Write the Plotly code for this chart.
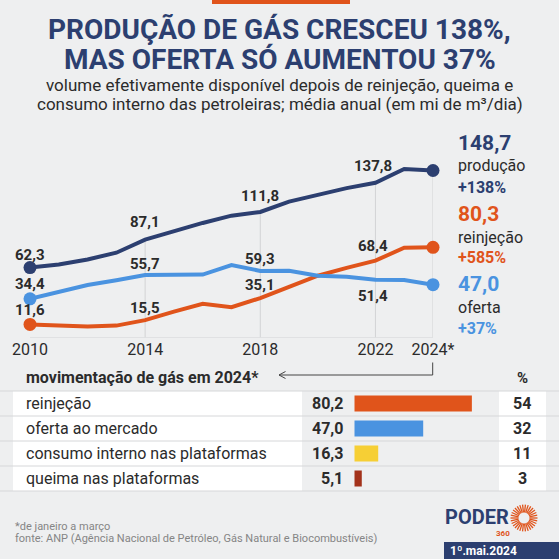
import math
import plotly.graph_objects as go

# ---------------- data ----------------
years = list(range(2010, 2025))
producao = [62.3, 65.0, 69.5, 75.5, 87.1, 95.0, 102.0, 108.5, 111.8, 121.0, 127.0, 133.0, 137.8, 150.0, 148.7]
oferta = [34.4, 40.8, 46.8, 51.0, 55.7, 55.9, 56.0, 64.5, 59.3, 59.5, 55.0, 54.0, 51.4, 51.2, 47.0]
reinjecao = [11.6, 10.6, 9.8, 10.6, 15.5, 23.0, 30.0, 27.0, 35.1, 45.0, 55.0, 62.0, 68.4, 80.0, 80.3]

label_years = [2010, 2014, 2018, 2022]
tick_years = [2010, 2014, 2018, 2022, 2024]
tick_text = ["2010", "2014", "2018", "2022", "2024*"]
grid_years = [2014, 2018, 2022, 2024]

series_names = ["produção", "reinjeção", "oferta"]
series_change = ["+138%", "+585%", "+37%"]

mov_cats = ["reinjeção", "oferta ao mercado", "consumo interno nas plataformas", "queima nas plataformas"]
mov_vals = [80.2, 47.0, 16.3, 5.1]
mov_pct = [54, 32, 11, 3]

title_lines = ["PRODUÇÃO DE GÁS CRESCEU 138%,", "MAS OFERTA SÓ AUMENTOU 37%"]
subtitle_lines = ["volume efetivamente disponível depois de reinjeção, queima e",
                  "consumo interno das petroleiras; média anual (em mi de m³/dia)"]
table_title = "movimentação de gás em 2024*"
note = "*de janeiro a março"
source = "fonte: ANP (Agência Nacional de Petróleo, Gás Natural e Biocombustíveis)"
date_txt = "1º.mai.2024"

# ---------------- styles ----------------
W = H = 559
BG = "#eeeff0"
NAVY = "#2c3f70"
ORANGE = "#e0541b"
BLUE = "#4a93e0"
YELLOW = "#f6cf35"
DARKRED = "#a3321b"
TXT = "#2b2b2b"
GRID = "#d2d3d5"
FONT = "Roboto"

def px(x):
    return x / W

def py(y):
    return 1 - y / H

def fmt(v):
    return f"{v:.1f}".replace(".", ",")

# line chart geometry
X0, X1 = 30, 433
Y_BASE, Y_TOP, PXU = 337.5, 120, 1.123
# table geometry
ROW_TOP, ROW_H = 391, 25
BAR_X0, BAR_X1, BAR_PXU = 354.3, 500, 1.466

fig = go.Figure()

line_colors = [NAVY, ORANGE, BLUE]
all_series = [producao, reinjecao, oferta]
for s, c in zip(all_series, line_colors):
    fig.add_trace(go.Scatter(x=years, y=s, mode="lines", line=dict(color=c, width=4),
                             cliponaxis=False, hoverinfo="skip", showlegend=False))
    fig.add_trace(go.Scatter(x=[years[0], years[-1]], y=[s[0], s[-1]], mode="markers",
                             marker=dict(color=c, size=13), cliponaxis=False,
                             hoverinfo="skip", showlegend=False))

fig.add_trace(go.Bar(x=mov_vals, y=mov_cats, orientation="h", xaxis="x2", yaxis="y2",
                     marker=dict(color=[ORANGE, BLUE, YELLOW, DARKRED], line=dict(width=0)),
                     width=0.64, hoverinfo="skip", showlegend=False))

shapes = []
ann = []

# top orange bar
shapes.append(dict(type="rect", xref="paper", yref="paper", x0=px(212), x1=px(350),
                   y0=py(0), y1=py(4), fillcolor=ORANGE, line=dict(width=0)))

# title & subtitle
for i, t in enumerate(title_lines):
    ann.append(dict(text=t, xref="paper", yref="paper", x=0.5, y=py(29 + 30 * i),
                    xanchor="center", yanchor="middle", showarrow=False,
                    font=dict(family=FONT, size=28, color=NAVY, weight="bold")))
for i, t in enumerate(subtitle_lines):
    ann.append(dict(text=t, xref="paper", yref="paper", x=0.5, y=py(85.5 + 18.5 * i),
                    xanchor="center", yanchor="middle", showarrow=False,
                    font=dict(family=FONT, size=17, color=TXT)))

# gridlines up to the production line and baseline
for gy in grid_years:
    shapes.append(dict(type="line", xref="x", yref="y", x0=gy, x1=gy, y0=0,
                       y1=producao[years.index(gy)], line=dict(color=GRID, width=1), layer="below"))
shapes.append(dict(type="line", xref="x", yref="y", x0=years[0], x1=years[-1], y0=0, y1=0,
                   line=dict(color=GRID, width=1), layer="below"))

# data labels
label_shift = {
    0: [13, 18, 16, 17],     # produção (above)
    1: [14, 12, 13, 15],     # reinjeção (above)
    2: [15, 11, 12, -16],    # oferta (last one below)
}
for si, s in enumerate(all_series):
    for li, ly in enumerate(label_years):
        v = s[years.index(ly)]
        ann.append(dict(text=fmt(v), xref="x", yref="y", x=ly, y=v, yshift=label_shift[si][li],
                        xshift=-2 if ly == 2022 else 0,
                        xanchor="center", yanchor="middle", showarrow=False,
                        font=dict(family=FONT, size=15, color=TXT, weight="bold")))

# right side labels
right_y = [(143, 166, 187), (214, 237, 257), (284, 307, 328)]
for si, s in enumerate(all_series):
    c = line_colors[si]
    yv, yn, yc = right_y[si]
    ann.append(dict(text=fmt(s[-1]), xref="paper", yref="paper", x=px(456), y=py(yv),
                    xanchor="left", yanchor="middle", showarrow=False,
                    font=dict(family=FONT, size=21, color=c, weight="bold")))
    ann.append(dict(text=series_names[si], xref="paper", yref="paper", x=px(456), y=py(yn),
                    xanchor="left", yanchor="middle", showarrow=False,
                    font=dict(family=FONT, size=16, color=TXT)))
    ann.append(dict(text=series_change[si], xref="paper", yref="paper", x=px(456), y=py(yc),
                    xanchor="left", yanchor="middle", showarrow=False,
                    font=dict(family=FONT, size=16, color=c, weight="bold")))

# table header and arrow
ann.append(dict(text=table_title, xref="paper", yref="paper", x=px(24), y=py(377.5),
                xanchor="left", yanchor="middle", showarrow=False,
                font=dict(family=FONT, size=16, color=TXT, weight="bold")))
ann.append(dict(text="%", xref="paper", yref="paper", x=px(522), y=py(378),
                xanchor="center", yanchor="middle", showarrow=False,
                font=dict(family=FONT, size=15, color=TXT, weight="bold")))
shapes.append(dict(type="path", xref="paper", yref="paper",
                   path=f"M {px(432.7)} {py(362.5)} L {px(432.7)} {py(375)} L {px(279)} {py(375)}",
                   line=dict(color="#444444", width=1)))
shapes.append(dict(type="path", xref="paper", yref="paper",
                   path=f"M {px(285.5)} {py(371.5)} L {px(279)} {py(375)} L {px(285.5)} {py(378.5)}",
                   line=dict(color="#444444", width=1)))

# table rows
for i, cat in enumerate(mov_cats):
    top = ROW_TOP + ROW_H * i
    bot = top + ROW_H
    shapes.append(dict(type="rect", xref="paper", yref="paper", x0=px(13), x1=px(302),
                       y0=py(top), y1=py(bot), fillcolor="white", line=dict(width=0), layer="below"))
    shapes.append(dict(type="rect", xref="paper", yref="paper", x0=px(499), x1=px(546),
                       y0=py(top), y1=py(bot), fillcolor="white", line=dict(width=0), layer="below"))
    ann.append(dict(text=cat, xref="paper", yref="y2", x=px(24), y=cat,
                    xanchor="left", yanchor="middle", showarrow=False,
                    font=dict(family=FONT, size=16, color=TXT)))
    ann.append(dict(text=fmt(mov_vals[i]), xref="x2", yref="y2", x=0, y=cat, xshift=-9,
                    xanchor="right", yanchor="middle", showarrow=False,
                    font=dict(family=FONT, size=16, color=TXT, weight="bold")))
    ann.append(dict(text=str(mov_pct[i]), xref="paper", yref="y2", x=px(522.3), y=cat,
                    xanchor="center", yanchor="middle", showarrow=False,
                    font=dict(family=FONT, size=16, color=TXT, weight="bold")))
for i in range(len(mov_cats) + 1):
    yy = ROW_TOP + ROW_H * i
    shapes.append(dict(type="line", xref="paper", yref="paper", x0=0, x1=1, y0=py(yy), y1=py(yy),
                       line=dict(color="#d6d7d9", width=1), layer="below"))

# footer
ann.append(dict(text=note, xref="paper", yref="paper", x=px(13), y=py(526),
                xanchor="left", yanchor="middle", showarrow=False,
                font=dict(family=FONT, size=11, color="#858585")))
ann.append(dict(text=source, xref="paper", yref="paper", x=px(13), y=py(538.5),
                xanchor="left", yanchor="middle", showarrow=False,
                font=dict(family=FONT, size=11, color="#858585")))

# logo
ann.append(dict(text="PODER", xref="paper", yref="paper", x=px(443), y=py(517),
                xanchor="left", yanchor="middle", showarrow=False,
                font=dict(family=FONT, size=20, color=NAVY, weight="bold")))
ann.append(dict(text="360", xref="paper", yref="paper", x=px(503), y=py(533),
                xanchor="center", yanchor="middle", showarrow=False,
                font=dict(family=FONT, size=8, color=ORANGE, weight="bold")))
cx, cy = 524, 518
for k in range(30):
    a = 2 * math.pi * k / 30
    r0, r1 = 5.5, 13.5
    shapes.append(dict(type="line", xref="paper", yref="paper",
                       x0=px(cx + r0 * math.cos(a)), y0=py(cy + r0 * math.sin(a)),
                       x1=px(cx + r1 * math.cos(a)), y1=py(cy + r1 * math.sin(a)),
                       line=dict(color=ORANGE, width=1.3)))
shapes.append(dict(type="rect", xref="paper", yref="paper", x0=px(444), x1=1,
                   y0=py(542), y1=0, fillcolor=NAVY, line=dict(width=0)))
ann.append(dict(text=date_txt, xref="paper", yref="paper", x=px(448), y=py(550.5),
                xanchor="left", yanchor="middle", showarrow=False,
                font=dict(family=FONT, size=12, color="white", weight="bold")))

fig.update_layout(
    width=W, height=H, margin=dict(l=0, r=0, t=0, b=0, pad=0, autoexpand=False),
    paper_bgcolor=BG, plot_bgcolor="rgba(0,0,0,0)",
    font=dict(family=FONT, color=TXT),
    showlegend=False,
    xaxis=dict(domain=[px(X0), px(X1)], range=[years[0], years[-1]], tickvals=tick_years,
               ticktext=tick_text, showgrid=False, zeroline=False, showline=False, ticks="",
               tickfont=dict(family=FONT, size=16, color=TXT), fixedrange=True, automargin=False),
    yaxis=dict(domain=[py(Y_BASE), py(Y_TOP)], range=[0, (Y_BASE - Y_TOP) / PXU],
               visible=False, fixedrange=True, automargin=False),
    xaxis2=dict(domain=[px(BAR_X0), px(BAR_X1)], range=[0, (BAR_X1 - BAR_X0) / BAR_PXU],
                visible=False, anchor="y2", fixedrange=True, automargin=False),
    yaxis2=dict(domain=[py(ROW_TOP + ROW_H * len(mov_cats)), py(ROW_TOP)], type="category",
                categoryorder="array", categoryarray=mov_cats,
                range=[len(mov_cats) - 0.5, -0.5], visible=False, anchor="x2", fixedrange=True,
                automargin=False),
    shapes=shapes, annotations=ann,
)

fig.write_html("out.html", config={"displayModeBar": False},
               post_script="document.body.style.margin='0';document.body.style.padding='0';"
                           "document.body.style.background='" + BG + "';")
